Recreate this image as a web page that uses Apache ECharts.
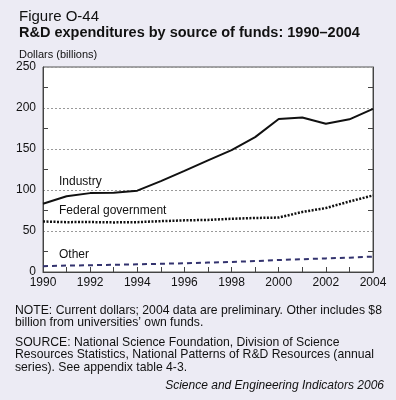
<!DOCTYPE html>
<html lang="en">
<head>
<meta charset="utf-8">
<script src="https://cdn.jsdelivr.net/npm/echarts@6/dist/echarts.min.js"></script>
<style>
    html, body { margin: 0; padding: 0; background: #ecebf4; }
    #chart { width: 396px; height: 400px; }
</style>
</head>
<body>
<div id="chart"></div>
<script>
    // years and values (billions of current dollars)
    var years = [1990, 1991, 1992, 1993, 1994, 1995, 1996, 1997, 1998, 1999, 2000, 2001, 2002, 2003, 2004];
    var industry = [83.2, 92.3, 96.2, 96.5, 99.2, 110.9, 123.4, 136.2, 148.7, 164.5, 186.5, 188.4, 180.7, 186.2, 199.0];
    var federal = [61.6, 60.8, 60.9, 60.5, 60.8, 62.0, 63.0, 63.5, 64.9, 65.9, 66.4, 73.2, 78.0, 86.0, 93.4];
    var other = [7.1, 7.8, 8.3, 8.8, 9.4, 10.0, 10.7, 11.5, 12.3, 13.3, 14.6, 15.6, 16.6, 17.5, 18.8];
    var yTicks = [0, 50, 100, 150, 200, 250];

    var font = 'Liberation Sans, Arial, Helvetica, sans-serif';

    function pairs(vals) {
        return years.map(function (y, i) { return [y, vals[i]]; });
    }

    var chart = echarts.init(document.getElementById('chart'));
    chart.setOption({
        backgroundColor: '#ecebf4',
        animation: false,
        textStyle: { fontFamily: font },
        title: [
            { text: 'Figure O-44', left: 14, top: 4,
              textStyle: { fontFamily: font, fontSize: 15, fontWeight: 'normal', color: '#111' } },
            { text: 'R&D expenditures by source of funds: 1990\u20132004', left: 14, top: 20,
              textStyle: { fontFamily: font, fontSize: 14.5, fontWeight: 'bold', color: '#111' } },
            { text: 'Dollars (billions)', left: 14, top: 44,
              textStyle: { fontFamily: font, fontSize: 11, fontWeight: 'normal', color: '#111' } }
        ],
        grid: {
            left: 43, right: 23, top: 67, bottom: 128,
            show: true, backgroundColor: '#fff', borderColor: '#555', borderWidth: 1
        },
        xAxis: {
            type: 'value', min: 1990, max: 2004, interval: 1,
            axisLine: { show: true, lineStyle: { color: '#444' } },
            axisTick: { show: true, inside: true, length: 5, lineStyle: { color: '#444' } },
            axisLabel: {
                fontSize: 12, color: '#111', margin: 5,
                formatter: function (v) { return v % 2 === 0 ? String(v) : ''; }
            },
            splitLine: { show: false }
        },
        yAxis: [{
            type: 'value', min: 0, max: 250, interval: 50,
            axisLine: { show: true, lineStyle: { color: '#444' } },
            axisTick: { show: false, inside: true },
            minorTick: { show: true, splitNumber: 2, length: 5, lineStyle: { color: '#444' } },
            axisLabel: {
                fontSize: 12, color: '#111', margin: 7,
                formatter: function (v) { return yTicks.indexOf(v) >= 0 ? String(v) : ''; }
            },
            splitLine: { show: true, lineStyle: { color: '#999', type: [2, 2], width: 1 } }
        }, {
            type: 'value', min: 0, max: 250, interval: 50, position: 'right',
            axisLine: { show: true, lineStyle: { color: '#444' } },
            axisTick: { show: false, inside: true },
            minorTick: { show: true, splitNumber: 2, length: 5, lineStyle: { color: '#444' } },
            axisLabel: { show: false },
            splitLine: { show: false }
        }],
        series: [{
            name: 'Industry', type: 'line', data: pairs(industry), symbol: 'none',
            lineStyle: { color: '#111', width: 2 }
        }, {
            name: 'Federal government', type: 'line', data: pairs(federal), symbol: 'none',
            lineStyle: { color: '#111', width: 2.5, type: [2, 1.5] }
        }, {
            name: 'Other', type: 'line', data: pairs(other), symbol: 'none',
            lineStyle: { color: '#33336e', width: 2, type: [5, 4] }
        }],
        graphic: [
            { type: 'text', left: 59, top: 176, style: { text: 'Industry', font: '12px ' + font, fill: '#111' } },
            { type: 'text', left: 59, top: 205, style: { text: 'Federal government', font: '12px ' + font, fill: '#111' } },
            { type: 'text', left: 59, top: 249, style: { text: 'Other', font: '12px ' + font, fill: '#111' } },
            { type: 'text', left: 15, top: 304, style: {
                text: 'NOTE: Current dollars; 2004 data are preliminary. Other includes $8\nbillion from universities\u2019 own funds.',
                font: '12.2px ' + font, fill: '#111', lineHeight: 12.5 } },
            { type: 'text', left: 15, top: 336, style: {
                text: 'SOURCE: National Science Foundation, Division of Science\nResources Statistics, National Patterns of R&D Resources (annual\nseries). See appendix table 4-3.',
                font: '12.2px ' + font, fill: '#111', lineHeight: 12.5 } },
            { type: 'text', right: 12, top: 380, style: {
                text: 'Science and Engineering Indicators 2006',
                font: 'italic 12px ' + font, fill: '#111' } }
        ]
    });
</script>
</body>
</html>
